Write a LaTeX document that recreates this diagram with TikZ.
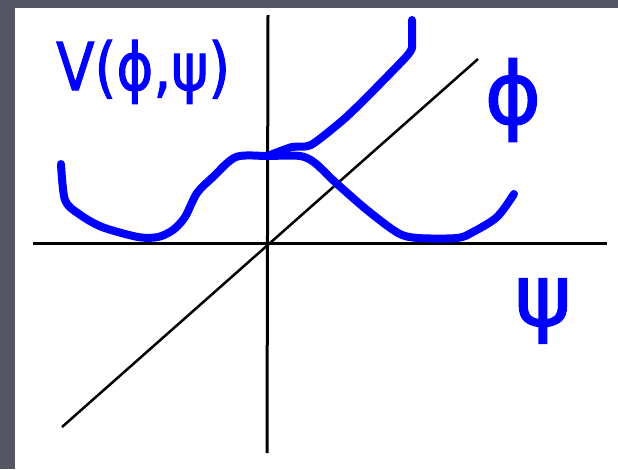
\documentclass[tikz,border=0pt]{standalone}
\usepackage{fontspec}
\setmainfont{DejaVu Sans}
\newfontfamily\penfont[FakeBold=1.6]{DejaVu Sans}
\definecolor{bggray}{RGB}{84,87,99}
\definecolor{penblue}{RGB}{0,0,255}
\begin{document}
\begin{tikzpicture}[x=1pt,y=-1pt,
  blueline/.style={line width=8pt, draw=penblue, line cap=round, line join=round},
  axisline/.style={line width=3pt, draw=black},
  lbl/.style={text=penblue, inner sep=0pt, font=\penfont\fontsize{66}{66}\selectfont},
  biglbl/.style={lbl, font=\penfont\fontsize{86}{86}\selectfont}]
\useasboundingbox (0,0) rectangle (618,469);
\fill[bggray] (0,0) rectangle (618,469);
\fill[white] (15,8) rectangle (618,469);
% axes
\draw[axisline] (33,243) -- (607,243);
\draw[axisline] (268,15) -- (267,453);
\draw[axisline, line width=2.5pt] (62,427) -- (478,59);
% double well
\draw[blueline] plot[smooth, tension=0.5] coordinates {
  (61,164) (65,200) (79,214) (102,227) (138,237) (158,237) (173,230)
  (185,217) (197,193) (213,177) (236,157) (268,156) (300,156) (315,163)
  (335,182) (367,210) (398,233) (418,238) (457,238) (473,232) (497,217) (514,194)};
% phi branch
\draw[blueline] plot[smooth, tension=0.4] coordinates {
  (270,155) (292,147) (311,145) (343,120) (367,97) (406,57) (412,48)}
  -- (412,20);
% labels
\node[lbl, anchor=base west, xscale=0.85] (vlabel) at (56,90) {V(ϕ,ψ)};
\node[biglbl, anchor=center] (philabel) at (513,100) {ϕ};
\node[biglbl, anchor=center] (psilabel) at (543,311) {ψ};
\end{tikzpicture}
\end{document}
